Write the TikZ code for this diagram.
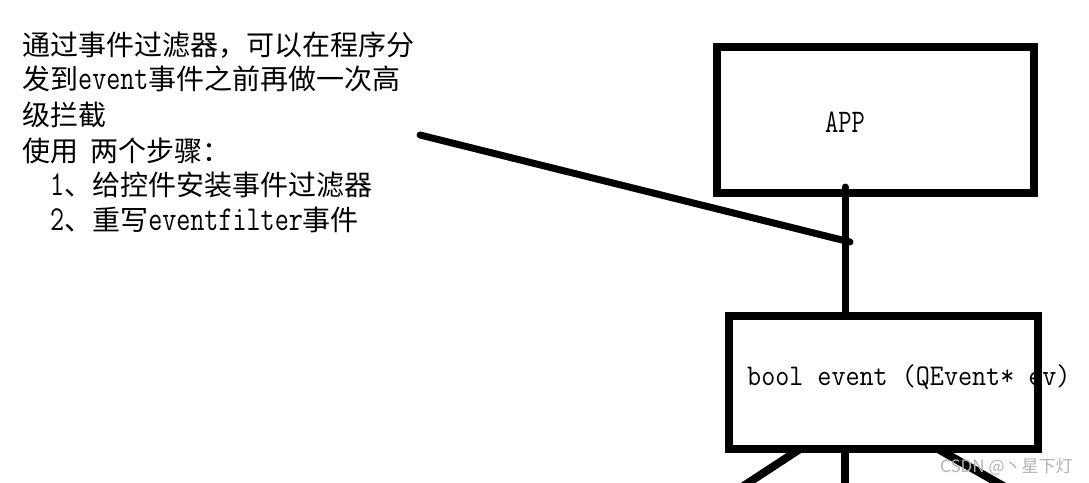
\documentclass[tikz,border=0pt]{standalone}
\usepackage{fontspec}
\newfontfamily\cjk{Noto Sans CJK SC}
\newfontfamily\monoA{Latin Modern Mono}[FakeStretch=0.78]
\newfontfamily\monoB{Latin Modern Mono}[FakeStretch=0.91]
\newcommand{\lat}[1]{{\monoA\fontsize{35}{36}\selectfont #1}}
\begin{document}
\begin{tikzpicture}[x=1pt,y=-1pt,
  txt/.style={inner sep=0pt, anchor=base west, font=\cjk\fontsize{28}{34}\selectfont},
  boxnode/.style={draw=black, line width=8pt, minimum width=#1, inner sep=0pt},
  conn/.style={line width=7pt, line cap=round}]
\useasboundingbox (0,0) rectangle (1089,482);
\clip (0,0) rectangle (1089,482);
% left text block
\node[txt] (l1) at (22,55) {通过事件过滤器，可以在程序分};
\node[txt] (l2) at (22,89) {发到\lat{event}事件之前再做一次高};
\node[txt] (l3) at (22,125) {级拦截};
\node[txt] (l4) at (22,161) {使用\hspace{12pt}两个步骤：};
\node[txt] (l5) at (22,195) {\hspace{28pt}\lat{1}、给控件安装事件过滤器};
\node[txt] (l6) at (22,230) {\hspace{28pt}\lat{2}、重写\lat{eventfilter}事件};
% APP box
\node[boxnode=317pt, minimum height=146pt] (appbox) at (875.5,120) {};
\node[inner sep=0pt, anchor=base, font=\monoA\fontsize{33}{34}\selectfont] (apptxt) at (845,132) {APP};
% event box
\node[inner sep=0pt, anchor=base west, font=\monoB\fontsize{30}{32}\selectfont] (evtxt) at (747,385) {bool event (QEvent* ev)};
\node[boxnode=309pt, minimum height=133pt] (evbox) at (883.5,382.5) {};
% connectors
\coordinate (note) at (420,135);
\coordinate (tip) at (850,242);
\coordinate (stemtop) at (845,187);
\draw[conn] (stemtop) -- (stemtop |- evbox.north);
\draw[conn] (note) -- (tip);
\coordinate (bl) at (800,449);
\coordinate (ble) at (722,500);
\coordinate (bm) at (845,449);
\coordinate (bme) at (845,500);
\coordinate (br) at (938,449);
\coordinate (bre) at (1028,500);
\draw[line width=8pt] (bl) -- (ble);
\draw[line width=8pt] (bm) -- (bme);
\draw[line width=8pt] (br) -- (bre);
% watermark
\node[inner sep=0pt, anchor=base west, text=black!30, font=\cjk\fontsize{17}{20}\selectfont] (wm) at (940,472) {CSDN @丶星下灯};
\end{tikzpicture}
\end{document}
